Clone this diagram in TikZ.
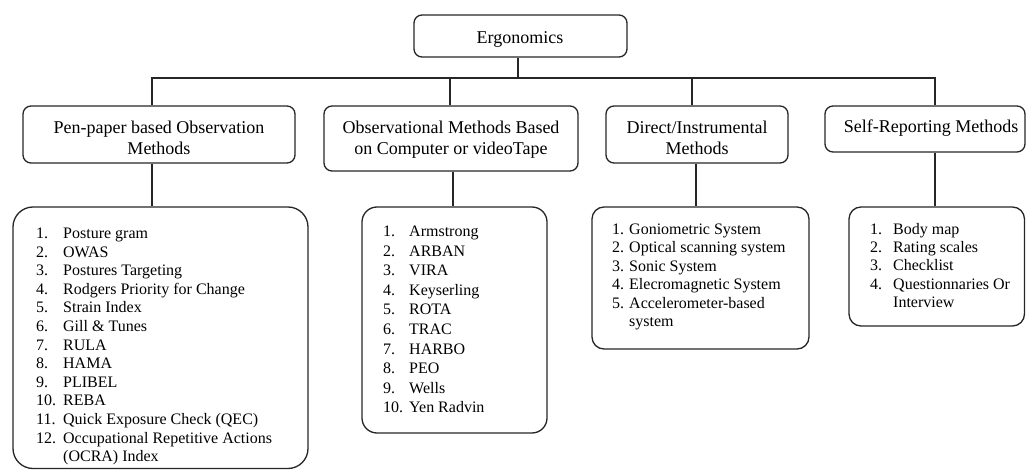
\documentclass[tikz,border=0pt]{standalone}
\usepackage{fontspec}
\setmainfont{Liberation Serif}
\begin{document}
\begin{tikzpicture}[x=1pt,y=-1pt,
  box/.style={draw=black!85,line width=1.3pt,inner sep=0pt},
  htext/.style={inner sep=0pt,anchor=base,font=\fontsize{18}{21}\selectfont},
  ltext/.style={inner sep=0pt,anchor=base west},
  conn/.style={draw=black!85,line width=1.2pt}]
\useasboundingbox (0,0) rectangle (1026,470);
% header boxes
\node[box,rounded corners=8pt,minimum width=213pt,minimum height=42pt] (erg) at (520.5,36) {};
\node[htext] (ergt) at (520,43.5) {Ergonomics};
\node[box,rounded corners=8pt,minimum width=272pt,minimum height=57pt] (b1) at (159,134.5) {};
\node[htext] (b1t) at (159,134) {\begin{tabular}[t]{@{}c@{}}Pen-paper based Observation\\Methods\end{tabular}};
\node[box,rounded corners=8pt,minimum width=254pt,minimum height=65pt] (b2) at (451,138.5) {};
\node[htext] (b2t) at (451,134) {\begin{tabular}[t]{@{}c@{}}Observational Methods Based\\on Computer or videoTape\end{tabular}};
\node[box,rounded corners=8pt,minimum width=182pt,minimum height=57pt] (b3) at (697,134.5) {};
\node[htext] (b3t) at (697,133.5) {\begin{tabular}[t]{@{}c@{}}Direct/Instrumental\\Methods\end{tabular}};
\node[box,rounded corners=8pt,minimum width=200pt,minimum height=46pt] (b4) at (925,129) {};
\node[htext] (b4t) at (931,133) {Self-Reporting Methods};
% list boxes
\node[box,rounded corners=20pt,minimum width=295pt,minimum height=261.5pt] (l1) at (160.5,337.75) {};
\node[box,rounded corners=15pt,minimum width=185pt,minimum height=226pt] (l2) at (454.5,320) {};
\node[box,rounded corners=12pt,minimum width=217pt,minimum height=142pt] (l3) at (700.5,278) {};
\node[box,rounded corners=12pt,minimum width=175.5pt,minimum height=119pt] (l4) at (936.75,266.5) {};
% connector coordinates
\coordinate (bus) at (0,78);
\coordinate (cA) at (518,0);
\coordinate (c1) at (152,0);
\coordinate (c2) at (450,0);
\coordinate (c3) at (692,0);
\coordinate (c4) at (935,0);
\coordinate (d2) at (453,0);
\coordinate (d3) at (696,0);
\draw[conn] (erg.south -| cA) -- (bus -| cA);
\draw[conn] (b1.north -| c1) -- (bus -| c1) -- (bus -| c4) -- (b4.north -| c4);
\draw[conn] (b2.north -| c2) -- (bus -| c2);
\draw[conn] (b3.north -| c3) -- (bus -| c3);
\draw[conn] (b1.south -| c1) -- (l1.north -| c1);
\draw[conn] (b2.south -| d2) -- (l2.north -| d2);
\draw[conn] (b3.south -| d3) -- (l3.north -| d3);
\draw[conn] (b4.south -| c4) -- (l4.north -| c4);
% list texts
\node[ltext,font=\fontsize{16}{18.6}\selectfont] (l1t) at (36,238.5) {\begin{tabular}[t]{@{}p{27pt}@{}l@{}}
1.&Posture gram\\
2.&OWAS\\
3.&Postures Targeting\\
4.&Rodgers Priority for Change\\
5.&Strain Index\\
6.&Gill \& Tunes\\
7.&RULA\\
8.&HAMA\\
9.&PLIBEL\\
10.&REBA\\
11.&Quick Exposure Check (QEC)\\
12.&Occupational Repetitive Actions\\
&(OCRA) Index
\end{tabular}};
\node[ltext,font=\fontsize{16}{19.6}\selectfont] (l2t) at (383,236.5) {\begin{tabular}[t]{@{}p{26pt}@{}l@{}}
1.&Armstrong\\
2.&ARBAN\\
3.&VIRA\\
4.&Keyserling\\
5.&ROTA\\
6.&TRAC\\
7.&HARBO\\
8.&PEO\\
9.&Wells\\
10.&Yen Radvin
\end{tabular}};
\node[ltext,font=\fontsize{16}{18.4}\selectfont] (l3t) at (612,234.6) {\begin{tabular}[t]{@{}p{17pt}@{}l@{}}
1.&Goniometric System\\
2.&Optical scanning system\\
3.&Sonic System\\
4.&Elecromagnetic System\\
5.&Accelerometer-based\\
&system
\end{tabular}};
\node[ltext,font=\fontsize{16}{18.3}\selectfont] (l4t) at (870,234.2) {\begin{tabular}[t]{@{}p{23pt}@{}l@{}}
1.&Body map\\
2.&Rating scales\\
3.&Checklist\\
4.&Questionnaries Or\\
&Interview
\end{tabular}};
\end{tikzpicture}
\end{document}
